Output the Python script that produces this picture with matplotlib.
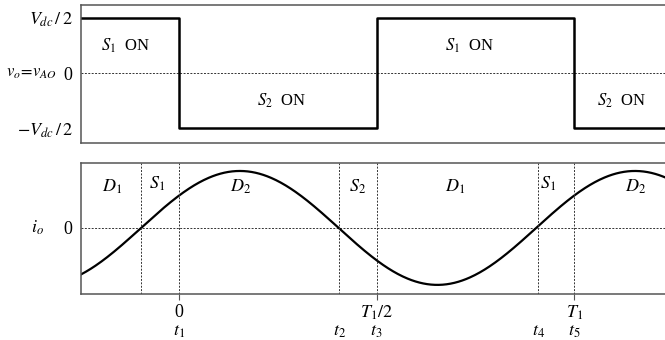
import numpy as np
import matplotlib.pyplot as plt

plt.rcParams['font.family'] = ['Liberation Serif', 'DejaVu Serif']
plt.rcParams['mathtext.fontset'] = 'stix'

# time axis in units of the period T1
x_range = (-0.248, 1.23)

# switching instants and output voltage levels (in Vdc/2)
switch_times = [-0.248, 0.0, 0.5, 1.0, 1.23]
switch_levels = [1, -1, 1, -1, -1]

# load current: amplitude and lag (rising zero crossing, in T1)
i_amp = 1.0
i_zero_rise = -0.096

# instants marked under the current plot
t_marks = [-0.096, 0.0, 0.405, 0.5, 0.909, 1.0]
t_names = [None, '$t_1$', '$t_2$', '$t_3$', '$t_4$', '$t_5$']
period_ticks = [0.0, 0.5, 1.0]
period_labels = ['0', '$T_1/2$', '$T_1$']

# conduction intervals written in the current plot
dev_x = [-0.168, -0.055, 0.155, 0.453, 0.70, 0.935, 1.155]
dev_names = ['$D_1$', '$S_1$', '$D_2$', '$S_2$', '$D_1$', '$S_1$', '$D_2$']
dev_y = [0.72, 0.78, 0.72, 0.72, 0.72, 0.78, 0.72]

# switch states written in the voltage plot
on_x = [-0.135, 0.26, 0.735, 1.12]
on_y = [0.5, -0.5, 0.5, -0.5]
on_names = ['$S_1$  ON', '$S_2$  ON', '$S_1$  ON', '$S_2$  ON']

frame_col = '#555555'
fig = plt.figure(figsize=(6.65, 3.4), dpi=100)
ax1 = fig.add_axes([81 / 665, 197 / 340, 584 / 665, 138 / 340])
ax2 = fig.add_axes([81 / 665, 46 / 340, 584 / 665, 131 / 340])

for ax in (ax1, ax2):
    ax.set_xlim(*x_range)
    ax.spines['right'].set_visible(False)
    for s in ('left', 'top', 'bottom'):
        ax.spines[s].set_color(frame_col)
        ax.spines[s].set_linewidth(1.1)
    ax.axhline(0, color='#333333', lw=0.7, ls=(0, (2, 1.5)))

# output voltage
ax1.set_ylim(-1.27, 1.236)
ax1.step(switch_times, switch_levels, where='post', color='black', lw=1.8)
ax1.set_xticks([])
ax1.set_yticks([1, 0, -1])
ax1.set_yticklabels(['$V_{dc}\\,/\\,2$', '0', '$-V_{dc}\\,/\\,2$'], fontsize=13)
ax1.tick_params(axis='y', length=0, pad=6)
ax1.annotate('$v_o\\!=\\!v_{AO}$', xy=(0, 0), xycoords=ax1.get_yaxis_transform(),
             xytext=(-24, 0), textcoords='offset pixels', ha='right', va='center', fontsize=12)
for x, y, s in zip(on_x, on_y, on_names):
    ax1.text(x, y, s, ha='center', va='center', fontsize=12)

# output current
t = np.linspace(x_range[0], x_range[1], 600)
ax2.set_ylim(-1.16, 1.14)
ax2.plot(t, i_amp * np.sin(2 * np.pi * (t - i_zero_rise)), color='black', lw=1.6)
for tm in t_marks:
    ax2.axvline(tm, color='#333333', lw=0.7, ls=(0, (2, 1.5)))
ax2.set_yticks([0])
ax2.set_yticklabels(['0'], fontsize=13)
ax2.tick_params(axis='y', length=0, pad=6)
ax2.set_xticks(period_ticks)
ax2.set_xticklabels(period_labels, fontsize=13)
ax2.tick_params(axis='x', direction='out', length=4, width=0.8, color=frame_col, pad=3)
ax2.annotate('$i_o$', xy=(0, 0), xycoords=ax2.get_yaxis_transform(),
             xytext=(-44, 0), textcoords='offset pixels', ha='center', va='center', fontsize=13)
for tm, name in zip(t_marks, t_names):
    if name:
        ax2.annotate(name, xy=(tm, 0), xycoords=ax2.get_xaxis_transform(),
                     xytext=(0, -37), textcoords='offset pixels', ha='center', va='center', fontsize=13)
for x, y, s in zip(dev_x, dev_y, dev_names):
    ax2.text(x, y, s, ha='center', va='center', fontsize=13)

fig.savefig('out.png', dpi=100)
